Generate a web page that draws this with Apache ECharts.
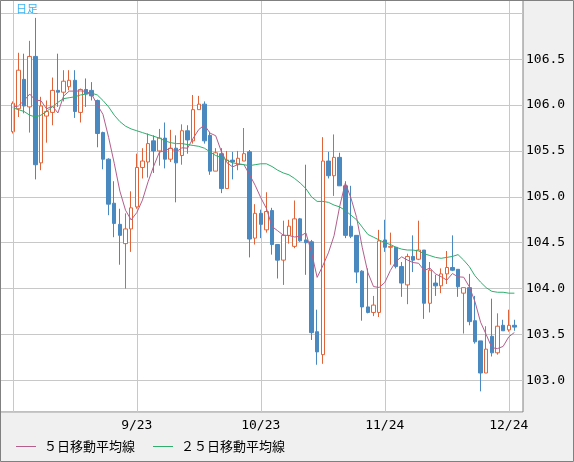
<!DOCTYPE html>
<html><head><meta charset="utf-8">
<script src="https://cdn.jsdelivr.net/npm/echarts@6/dist/echarts.min.js"></script>
<style>html,body{margin:0;padding:0;background:#f0f0f0;overflow:hidden}#c{width:574px;height:462px}</style>
</head><body><div id="c"></div>
<script>
const dates = ['8/24','8/25','8/26','8/27','8/28','8/31','9/1','9/2','9/3','9/4',
'9/7','9/8','9/9','9/10','9/11','9/14','9/15','9/16','9/17','9/18',
'9/21','9/22','9/23','9/24','9/25','9/28','9/29','9/30','10/1','10/2',
'10/5','10/6','10/7','10/8','10/9','10/12','10/13','10/14','10/15','10/16',
'10/19','10/20','10/21','10/22','10/23','10/26','10/27','10/28','10/29','10/30',
'11/2','11/3','11/4','11/5','11/6','11/9','11/10','11/11','11/12','11/13',
'11/16','11/17','11/18','11/19','11/20','11/23','11/24','11/25','11/26','11/27',
'11/30','12/1','12/2','12/3','12/4','12/7','12/8','12/9','12/10','12/11',
'12/14','12/15','12/16','12/17','12/18','12/21','12/22','12/23','12/24','12/25'];
const gridDates = ['8/24','9/23','10/23','11/24','12/24'];
const tickLabels = ['9/23','10/23','11/24','12/24'];
const opens = [105.71,105.96,106.28,105.98,106.53,105.37,105.88,105.92,106.16,106.14,
106.20,106.27,105.92,106.17,106.16,106.05,105.70,105.41,104.93,104.70,
104.49,104.65,104.89,105.32,105.38,105.61,105.50,105.64,105.41,105.53,
105.45,105.72,105.61,105.95,106.01,105.67,105.28,105.47,105.09,105.40,
105.35,105.39,105.49,104.55,104.82,104.64,104.85,104.48,104.31,104.58,
104.46,104.76,104.53,104.51,103.53,103.28,105.39,105.23,105.43,105.12,
104.68,104.58,104.19,103.80,103.74,103.74,104.53,104.45,104.45,104.24,
104.04,104.35,104.32,104.42,103.84,104.06,104.03,104.16,104.23,104.21,
103.95,104.01,103.65,103.43,103.08,103.48,103.30,103.60,103.55,103.60];
const closes = [106.02,106.38,105.99,106.53,105.35,105.99,105.93,106.16,106.14,106.26,
106.27,105.93,106.17,106.12,106.10,105.69,105.41,104.92,104.71,104.58,
104.65,104.88,105.32,105.39,105.58,105.50,105.64,105.41,105.53,105.37,
105.72,105.62,105.95,106.01,105.61,105.28,105.48,105.09,105.40,105.38,
105.42,105.47,104.54,104.82,104.70,104.84,104.48,104.31,104.58,104.68,
104.76,104.52,104.50,103.52,103.31,105.39,105.23,105.43,105.12,104.58,
104.57,104.18,103.80,103.74,103.82,104.52,104.45,104.46,104.24,104.06,
104.35,104.31,104.42,103.84,104.20,104.03,104.16,104.23,104.20,104.02,
104.01,103.64,103.42,103.08,103.34,103.30,103.59,103.54,103.60,103.58];
const lows = [105.69,105.87,105.91,105.70,105.19,105.29,105.59,105.78,105.98,106.04,
106.16,105.86,105.81,105.98,106.05,105.54,105.30,104.80,104.56,104.26,
104.00,104.40,104.87,105.20,105.21,105.26,105.34,105.31,105.38,104.94,
105.35,105.47,105.58,105.95,105.58,105.24,105.28,105.04,105.09,105.19,
105.29,105.39,104.34,104.48,104.55,104.61,104.37,104.11,104.04,104.49,
104.44,104.51,104.15,103.44,103.17,103.18,105.20,105.01,105.12,104.55,
104.55,104.06,103.65,103.73,103.70,103.69,104.40,104.26,104.22,103.91,
103.83,104.18,104.31,103.67,103.74,103.92,103.95,104.05,104.19,103.91,
103.51,103.60,103.40,102.88,103.08,103.26,103.28,103.54,103.53,103.54];
const highs = [106.04,106.57,106.56,106.70,106.95,106.09,106.05,106.30,106.56,106.38,
106.38,106.38,106.18,106.29,106.25,106.06,105.71,105.42,105.17,104.87,
104.82,105.06,105.47,105.53,105.69,105.67,105.74,105.81,105.73,105.67,
105.79,105.78,106.11,106.10,106.04,105.71,105.53,105.53,105.50,105.49,
105.50,105.75,105.51,104.92,104.86,105.05,104.88,104.48,104.74,104.75,
104.96,104.77,105.35,104.53,103.77,105.65,105.49,105.68,105.48,105.17,
105.12,104.58,104.20,104.22,103.92,104.64,104.75,104.61,104.45,104.29,
104.38,104.58,104.74,104.42,104.29,104.15,104.22,104.41,104.58,104.21,
104.01,104.16,103.92,103.43,103.59,103.89,103.73,103.66,103.77,103.66];
const ma25 = [105.97,105.95,105.93,105.89,105.87,105.89,105.93,105.98,106.03,106.07,
106.08,106.09,106.11,106.12,106.13,106.11,106.05,105.98,105.89,105.82,
105.77,105.74,105.72,105.70,105.68,105.66,105.64,105.61,105.59,105.58,
105.58,105.57,105.56,105.55,105.53,105.49,105.45,105.43,105.40,105.37,
105.36,105.35,105.34,105.35,105.36,105.36,105.33,105.29,105.26,105.24,
105.20,105.15,105.09,105.00,104.95,104.95,104.94,104.91,104.89,104.85,
104.80,104.75,104.67,104.59,104.56,104.53,104.50,104.48,104.45,104.43,
104.42,104.42,104.41,104.38,104.36,104.34,104.33,104.34,104.35,104.37,
104.31,104.24,104.14,104.07,104.01,103.97,103.96,103.96,103.95,103.95];
const ma5Lead = [105.98,105.99,106.05,106.12];
const seriesNames = ['５日移動平均線','２５日移動平均線'];

const ma5 = closes.map((c,i)=> i<4 ? ma5Lead[i] : +(closes.slice(i-4,i+1).reduce((a,b)=>a+b,0)/5).toFixed(3));
const ohlc = dates.map((d,i)=>[opens[i],closes[i],lows[i],highs[i]]);

const Y_MIN = 102.655, Y_MAX = 107.145;
const UP = '#e0643a', DOWN = '#4a88c0';
const GRID_C = '#c8c8c8';
const chart = echarts.init(document.getElementById('c'), null, {renderer:'canvas'});
chart.setOption({
  animation:false,
  backgroundColor:'#f0f0f0',
  title:{text:'日足',left:16,top:3,padding:0,textStyle:{fontSize:11,fontWeight:'normal',color:'#3cb4f0',fontFamily:'Noto Sans CJK JP'}},
  legend:{left:16,top:440,padding:0,itemWidth:20,itemHeight:1,itemGap:18,icon:'rect',
    data:seriesNames,
    textStyle:{fontSize:13,color:'#000',fontFamily:'Noto Sans CJK JP',padding:[0,0,0,3]}},
  grid:[
    {left:0,top:0,width:523,height:412,show:true,backgroundColor:'#fff',borderColor:'#808080',borderWidth:1},
    {left:12.8,top:0,width:501.6,height:412,show:false}
  ],
  xAxis:[
    {gridIndex:0,type:'value',min:0,max:1,show:false},
    {gridIndex:1,type:'category',data:dates,boundaryGap:false,
      axisLine:{show:false},axisTick:{show:false},
      axisLabel:{interval:(i,v)=>tickLabels.indexOf(dates[i])>=0,margin:7,fontSize:13,color:'#000',fontFamily:'DejaVu Sans Mono'},
      splitLine:{show:true,showMinLine:true,showMaxLine:true,interval:(i,v)=>gridDates.indexOf(dates[i])>=0,lineStyle:{color:GRID_C,width:1}}}
  ],
  yAxis:[
    {gridIndex:0,type:'value',position:'right',min:Y_MIN,max:Y_MAX,splitNumber:9,scale:true,
      axisLine:{show:false},axisTick:{show:false},
      axisLabel:{margin:3,fontSize:13,color:'#000',fontFamily:'DejaVu Sans Mono',showMinLabel:false,showMaxLabel:false,
        formatter:v=>{const r=Math.round(v*2)/2; return (Math.abs(v-r)<1e-6 && r<106.9)? r.toFixed(1):'';}},
      splitLine:{show:true,lineStyle:{color:GRID_C,width:1}}},
    {gridIndex:1,type:'value',min:Y_MIN,max:Y_MAX,scale:true,show:false,splitLine:{show:false}}
  ],
  series:[
    {type:'line',name:'grid-start',xAxisIndex:1,yAxisIndex:1,data:[],silent:true,z:1,
      markLine:{silent:true,symbol:['none','none'],label:{show:false},animation:false,
        lineStyle:{color:GRID_C,width:1,type:'solid'},data:[{xAxis:gridDates[0]}]}},
    {type:'candlestick',name:'日足',xAxisIndex:1,yAxisIndex:1,data:ohlc,barWidth:4,clip:false,z:2,
      itemStyle:{color:'#ffffff',color0:DOWN,borderColor:UP,borderColor0:DOWN,borderWidth:1}},
    {type:'line',name:seriesNames[0],xAxisIndex:1,yAxisIndex:1,data:ma5,symbol:'none',clip:false,
      lineStyle:{color:'#b25f8c',width:1},itemStyle:{color:'#b25f8c'},z:3},
    {type:'line',name:seriesNames[1],xAxisIndex:1,yAxisIndex:1,data:ma25,symbol:'none',clip:false,
      lineStyle:{color:'#2fae6e',width:1},itemStyle:{color:'#2fae6e'},z:3}
  ],
  graphic:[{type:'rect',shape:{x:0.5,y:0.5,width:573,height:461},style:{fill:'none',stroke:'#808080',lineWidth:1},z:100,silent:true}]
});
</script></body></html>
